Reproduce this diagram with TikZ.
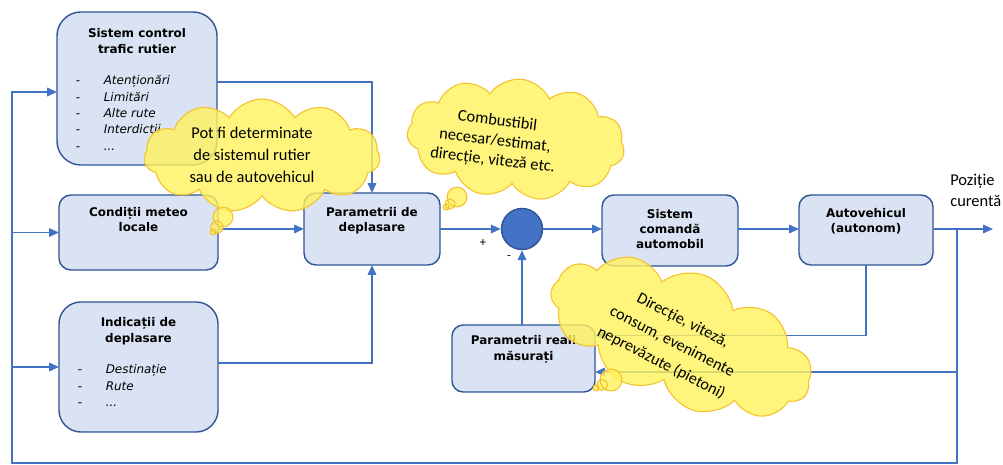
\documentclass[tikz,border=0pt]{standalone}
\usepackage{fontspec}
\setmainfont{Carlito}
\newfontfamily\boxfont{DejaVu Sans}
\usetikzlibrary{arrows.meta,shapes.symbols,shapes.geometric}
\definecolor{flowblue}{HTML}{4472C4}
\definecolor{boxfill}{HTML}{DAE3F3}
\definecolor{boxline}{HTML}{2F5597}
\definecolor{cloudfill}{HTML}{FFF35C}
\definecolor{cloudline}{HTML}{F5C230}
% box text: width, height, space above title, title, extra lines
\newcommand{\boxtxt}[5]{\parbox[c][#2][t]{#1}{\centering\vspace*{#3}{\bfseries #4\par}#5\par}}
\newcommand{\itm}[1]{\par\noindent\hspace*{0.47cm}\makebox[0.7cm][l]{-}\textit{#1}}

\begin{document}
\begin{tikzpicture}[x=0.025cm,y=-0.025cm,
  box/.style={draw=boxline,fill=boxfill,line width=1pt,inner sep=0pt,outer sep=0pt,
    font=\boxfont\fontsize{8.5}{10.8}\selectfont},
  flow/.style={draw=flowblue,line width=1.3pt,-{Triangle[length=7pt,width=6pt]}},
  thought/.style={cloud,cloud puffs=11,cloud puff arc=120,cloud ignores aspect,
    draw=cloudline,fill=cloudfill,fill opacity=.8,line width=.8pt,inner sep=0pt},
  bubble/.style={draw=cloudline,fill=cloudfill,fill opacity=.8,line width=.8pt},
  note/.style={align=center,inner sep=0pt,font=\fontsize{11.7}{15.6}\selectfont}]
  \useasboundingbox (0,0) rectangle (1003,465);

  % blocks
  \node[box,rounded corners=0.6cm] (ctrl) at (137,88.5) {\boxtxt{4cm}{3.825cm}{12pt}{Sistem control\\trafic rutier}{\raggedright\fontsize{8.5}{11.6}\selectfont\vspace{11pt}\itm{Atenționări}\itm{Limitări}\itm{Alte rute}\itm{Interdictii}\itm{...}}};
  \node[box,rounded corners=0.3cm] (meteo) at (138.5,232.5) {\boxtxt{3.975cm}{1.875cm}{9pt}{Condiții meteo\\locale}{}};
  \node[box,rounded corners=0.55cm] (ind) at (138.5,367) {\boxtxt{3.975cm}{3.25cm}{11.3pt}{Indicații de\\deplasare}{\raggedright\fontsize{8.5}{11.6}\selectfont\vspace{11pt}\itm{Destinație}\itm{Rute}\itm{...}}};
  \node[box,rounded corners=0.3cm] (par) at (372,229) {\boxtxt{3.4cm}{1.8cm}{10pt}{Parametrii de\\deplasare}{}};
  \node[circle,draw=boxline,fill=flowblue,line width=1pt,minimum size=1.025cm,inner sep=0pt] (sum) at (522,229) {};
  \node[box,rounded corners=0.3cm] (sis) at (670,230.5) {\boxtxt{3.4cm}{1.775cm}{10pt}{Sistem\\comandă\\automobil}{}};
  \node[box,rounded corners=0.3cm] (auto) at (866,230) {\boxtxt{3.35cm}{1.75cm}{9.5pt}{Autovehicul\\(autonom)}{}};
  \node[box,rounded corners=0.28cm] (real) at (523.5,358.5) {\boxtxt{3.575cm}{1.675cm}{7.7pt}{Parametrii reali\\măsurați}{}};

  \node[inner sep=0pt,font=\fontsize{9}{10}\selectfont] (plus) at (483,243) {+};
  \node[inner sep=0pt,font=\fontsize{9}{10}\selectfont] (minus) at (509,257) {-};
  \node[anchor=north west,align=left,inner sep=0pt,font=\fontsize{11.7}{15}\selectfont] (pos) at (950,174) {Poziție\\curentă};

  % connectors
  \coordinate (out) at (993,229);
  \coordinate (fb) at (957,229);
  \coordinate (bl) at (12,463);
  \draw[flow] ([yshift=4.6pt]ctrl.east) -| (par.north);
  \draw[flow] (meteo.east |- par.west) -- (par.west);
  \draw[flow] ([yshift=2.8pt]ind.east) -| (par.south);
  \draw[flow] (par.east) -- (sum.west);
  \draw[flow] (sum.east) -- (sum.east -| sis.west);
  \draw[flow] (sis.east |- sum) -- (auto.west |- sum);
  \draw[flow] (auto.east |- sum) -- (out);
  \draw[flow] (auto.south) |- ([yshift=16.3pt]real.east);
  \draw[flow] (fb) |- ([yshift=-9.6pt]real.east);
  \draw[flow] (fb) |- (bl) |- ([yshift=-2.5pt]ctrl.west);
  \draw[flow] (bl |- meteo.west) -- (meteo.west);
  \draw[flow] (bl |- ind.west) -- (ind.west);
  \draw[flow] (real.north -| sum) -- (sum.south);

  % thought clouds
  \node[thought,minimum width=5.9cm,minimum height=2.85cm] (c1) at (262,156) {};
  \filldraw[bubble] (223,217) circle (7pt) (217,227) circle (4.3pt) (213,232) circle (2.1pt);
  \node[thought,minimum width=5.45cm,minimum height=3cm,rotate=-5] (c2) at (516,139) {};
  \filldraw[bubble] (457,197) circle (7pt) (450,204) circle (3.6pt) (446,207) circle (2.1pt);
  \node[thought,minimum width=6.9cm,minimum height=3.3cm,rotate=-22] (c3) at (681,337) {};
  \filldraw[bubble] (611,380) circle (7.8pt) (602,385) circle (3.9pt) (596,388) circle (2.1pt);

  \node[note] (t1) at (252,155) {Pot fi determinate\\de sistemul rutier\\sau de autovehicul};
  \node[note,rotate=-7,font=\fontsize{11.7}{14}\selectfont] (t2) at (495,141) {Combustibil\\necesar/estimat,\\direcție, viteză etc.};
  \node[note,rotate=-27,font=\fontsize{11.5}{17}\selectfont] (t3) at (672,342) {Direcție, viteză,\\consum, evenimente\\neprevăzute (pietoni)};
\end{tikzpicture}
\end{document}
